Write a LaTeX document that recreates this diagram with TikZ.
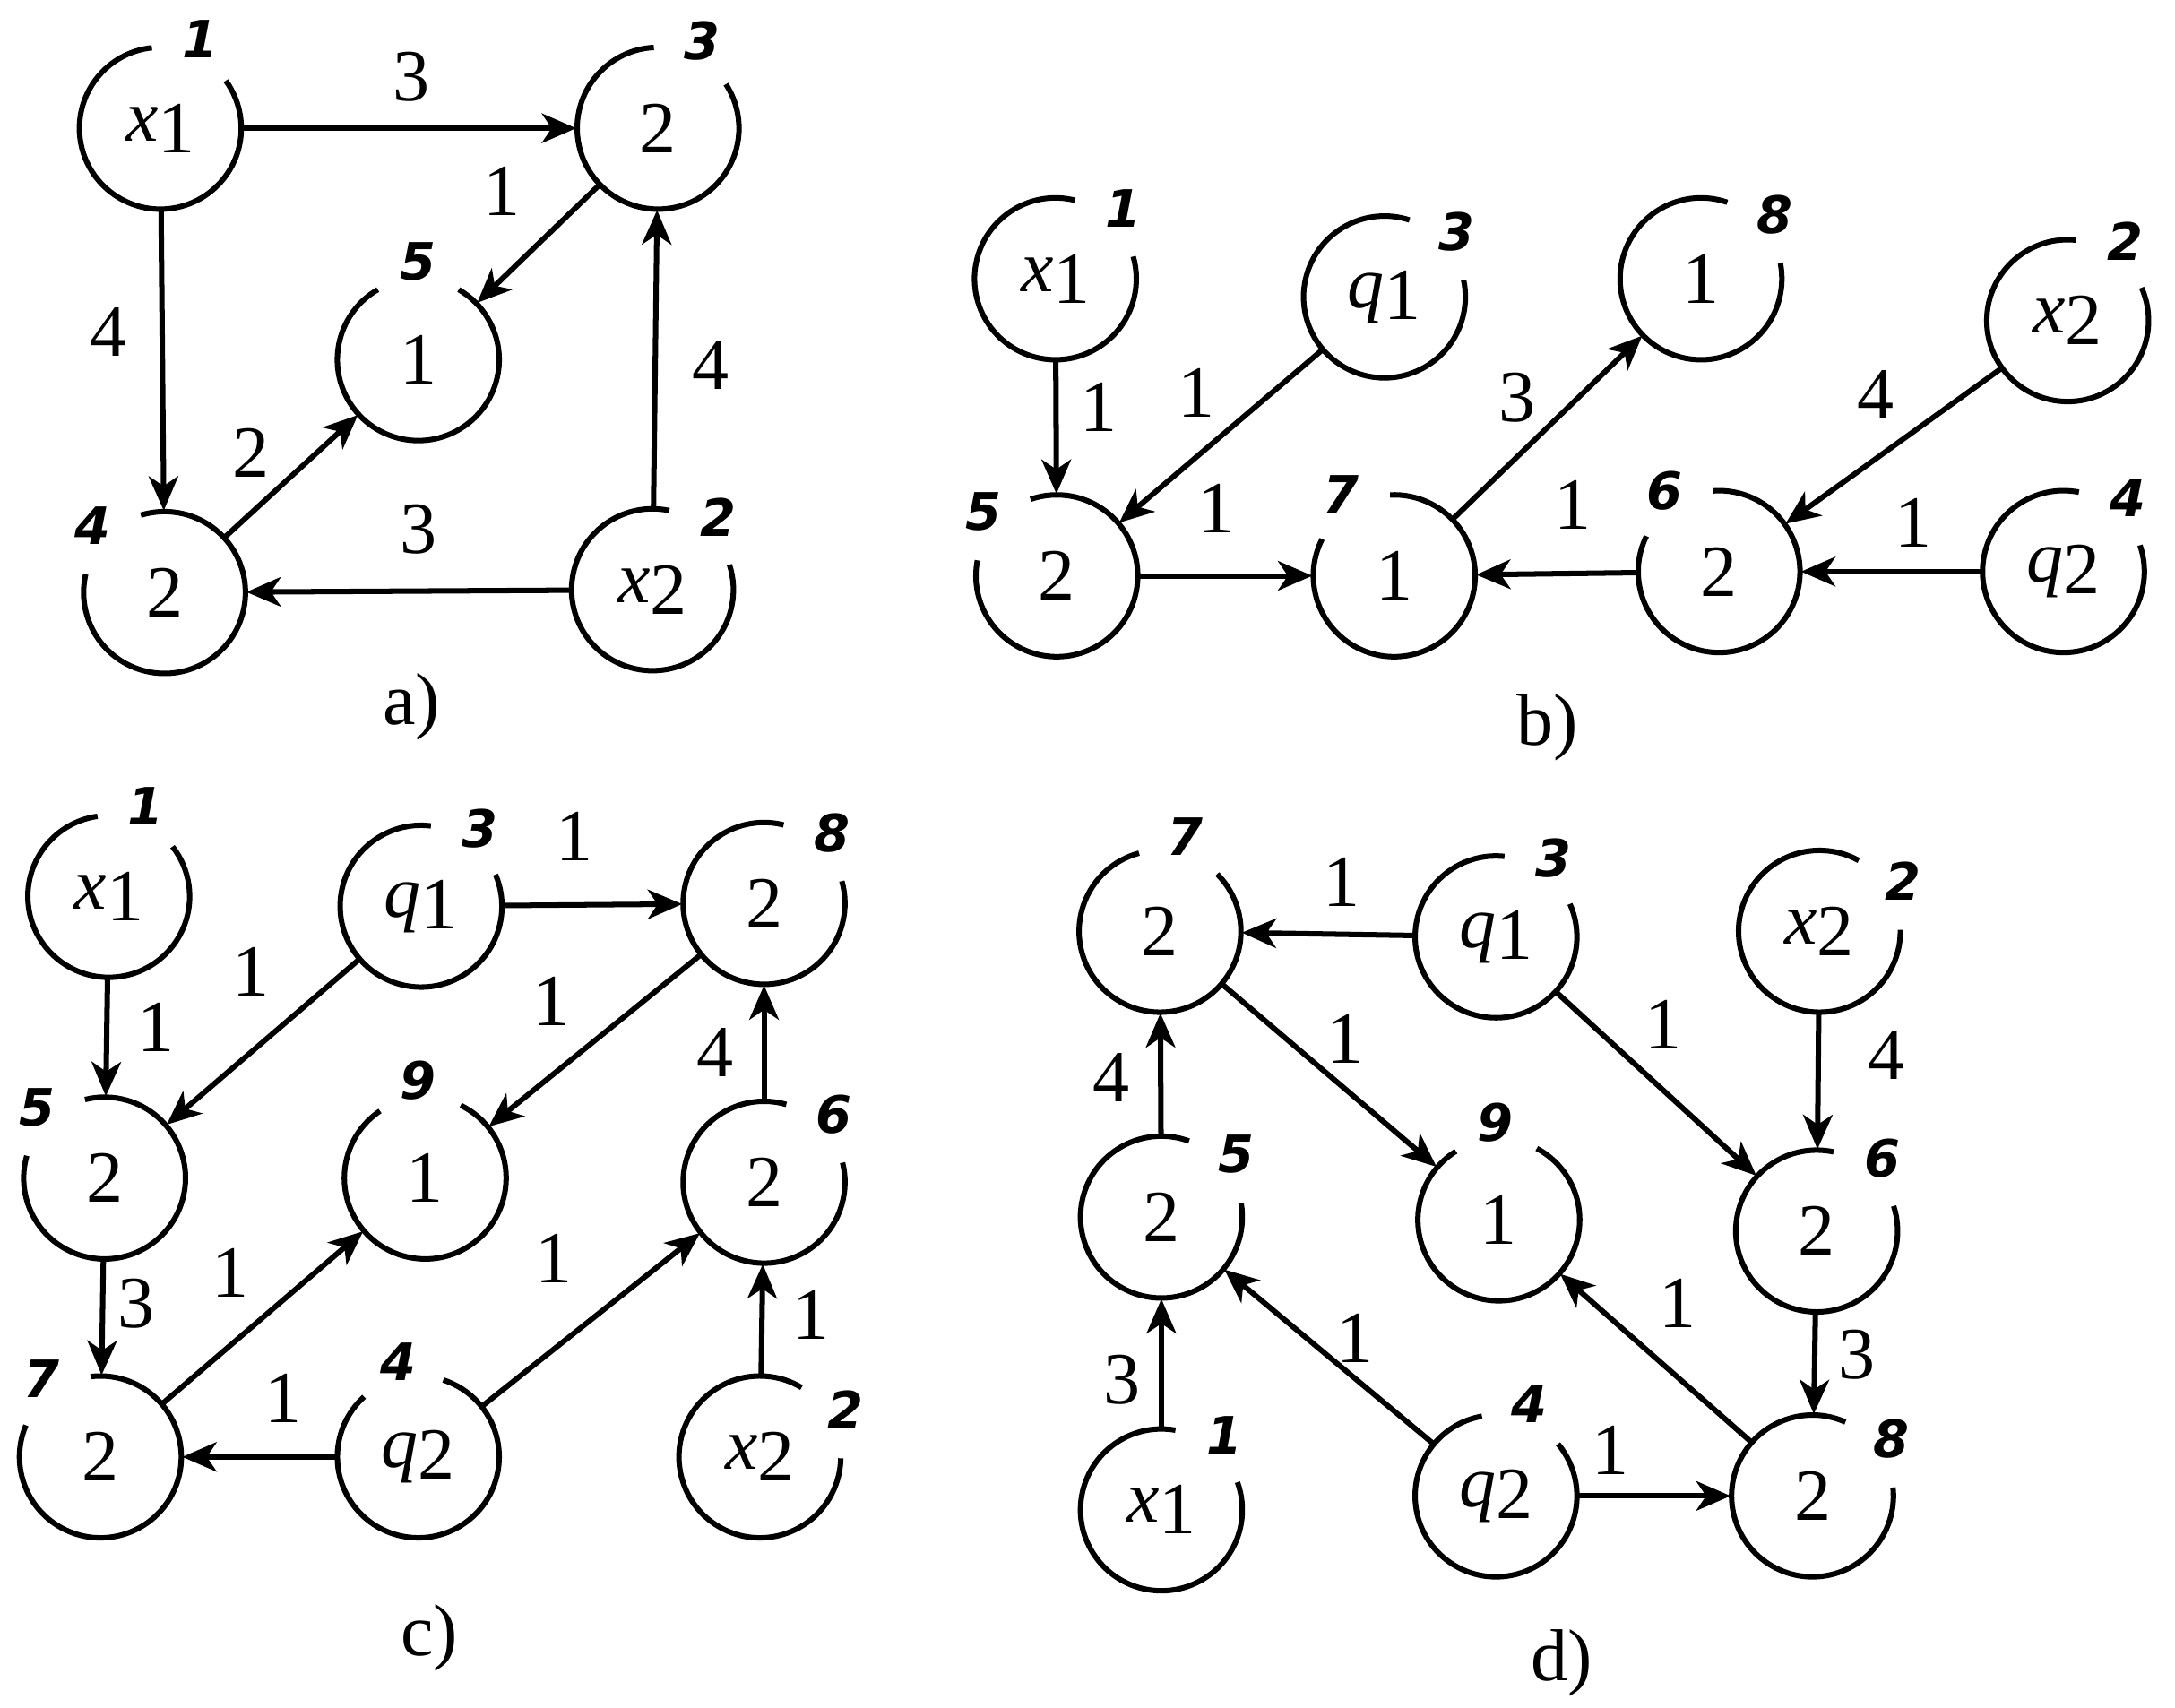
\documentclass[tikz,border=0pt]{standalone}
\usepackage{fontspec}
\setmainfont{Liberation Serif}
\newfontfamily\idxfont{DejaVu Sans}
\usetikzlibrary{arrows.meta,calc}
\tikzset{
  gn/.style={circle,minimum size=1.16cm,inner sep=0pt,font=\fontsize{15}{15}\selectfont},
  circ/.style={line width=1.1pt},
  idx/.style={font=\idxfont\bfseries\itshape\fontsize{10.5}{10.5}\selectfont},
  ed/.style={line width=1.1pt,-{Stealth[length=7pt,width=6pt,inset=2pt]}},
  lb/.style={font=\fontsize{15}{15}\selectfont},
  capt/.style={font=\fontsize{15}{15}\selectfont}
}
\newcommand\gn[5]{%
  \node[gn] (#1) at (#2) {#3};
  \draw[circ] (#1.center) ++(#4+30:0.58cm) arc[start angle=#4+30, delta angle=300, radius=0.58cm];
  \node[idx] at ($(#1.center)+(#4:0.70cm)$) {#5};
}
\newcommand\xv[1]{\textit{x}\raisebox{-0.35ex}{#1}}
\newcommand\qv[1]{\textit{q}\raisebox{-0.35ex}{#1}}
\begin{document}
\begin{tikzpicture}[x=0.01cm,y=-0.01cm]
\useasboundingbox (0,0) rectangle (1560,1225);
% (a)
\gn{a1}{115,92}{\xv1}{66}{1}
\gn{a3}{472,92}{2}{63}{3}
\gn{a5}{300,258}{1}{90}{5}
\gn{a4}{118,425}{2}{137}{4}
\gn{a2}{468,423}{\xv2}{48}{2}
\draw[ed] (a1) -- (a3);
\draw[ed] (a3) -- (a5);
\draw[ed] (a1) -- (a4);
\draw[ed] (a4) -- (a5);
\draw[ed] (a2) -- (a4);
\draw[ed] (a2) -- (a3);
\node[lb] at (295,55) {3};
\node[lb] at (360,137) {1};
\node[lb] at (78,238) {4};
\node[lb] at (180,325) {2};
\node[lb] at (300,380) {3};
\node[lb] at (510,262) {4};
\node[capt] at (295,507) {a)};
% (b)
\gn{b1}{757,200}{\xv1}{46}{1}
\gn{b3}{993,213}{\qv1}{42}{3}
\gn{b8}{1220,200}{1}{41}{8}
\gn{b2}{1483,230}{\xv2}{54}{2}
\gn{b5}{758,413}{2}{139}{5}
\gn{b7}{1000,413}{1}{123}{7}
\gn{b6}{1233,410}{2}{124}{6}
\gn{b4}{1480,410}{\qv2}{49}{4}
\draw[ed] (b1) -- (b5);
\draw[ed] (b3) -- (b5);
\draw[ed] (b5) -- (b7);
\draw[ed] (b7) -- (b8);
\draw[ed] (b6) -- (b7);
\draw[ed] (b2) -- (b6);
\draw[ed] (b4) -- (b6);
\node[lb] at (788,292) {1};
\node[lb] at (858,282) {1};
\node[lb] at (872,365) {1};
\node[lb] at (1088,285) {3};
\node[lb] at (1128,362) {1};
\node[lb] at (1345,283) {4};
\node[lb] at (1372,375) {1};
\node[capt] at (1110,522) {b)};
% (c)
\gn{c1}{78,643}{\xv1}{68}{1}
\gn{c3}{302,650}{\qv1}{53}{3}
\gn{c8}{548,648}{2}{46}{8}
\gn{c5}{75,845}{2}{134}{5}
\gn{c9}{305,845}{1}{94}{9}
\gn{c6}{548,848}{2}{44}{6}
\gn{c7}{72,1045}{2}{127}{7}
\gn{c4}{300,1045}{\qv2}{102}{4}
\gn{c2}{545,1045}{\xv2}{29}{2}
\draw[ed] (c1) -- (c5);
\draw[ed] (c3) -- (c5);
\draw[ed] (c3) -- (c8);
\draw[ed] (c8) -- (c9);
\draw[ed] (c6) -- (c8);
\draw[ed] (c5) -- (c7);
\draw[ed] (c7) -- (c9);
\draw[ed] (c4) -- (c7);
\draw[ed] (c4) -- (c6);
\draw[ed] (c2) -- (c6);
\node[lb] at (112,737) {1};
\node[lb] at (180,697) {1};
\node[lb] at (412,600) {1};
\node[lb] at (395,718) {1};
\node[lb] at (513,755) {4};
\node[lb] at (98,935) {3};
\node[lb] at (165,913) {1};
\node[lb] at (203,1003) {1};
\node[lb] at (397,903) {1};
\node[lb] at (582,943) {1};
\node[capt] at (308,1175) {c)};
% (d)
\gn{d7}{832,668}{2}{75}{7}
\gn{d3}{1073,672}{\qv1}{54}{3}
\gn{d2}{1305,668}{\xv2}{31}{2}
\gn{d9}{1075,875}{1}{92}{9}
\gn{d6}{1303,883}{2}{48}{6}
\gn{d5}{833,873}{2}{40}{5}
\gn{d1}{833,1083}{\xv1}{50}{1}
\gn{d4}{1073,1073}{\qv2}{70}{4}
\gn{d8}{1300,1073}{2}{36}{8}
\draw[ed] (d3) -- (d7);
\draw[ed] (d7) -- (d9);
\draw[ed] (d3) -- (d6);
\draw[ed] (d2) -- (d6);
\draw[ed] (d5) -- (d7);
\draw[ed] (d1) -- (d5);
\draw[ed] (d4) -- (d5);
\draw[ed] (d8) -- (d9);
\draw[ed] (d6) -- (d8);
\draw[ed] (d4) -- (d8);
\node[lb] at (962,633) {1};
\node[lb] at (965,745) {1};
\node[lb] at (1193,735) {1};
\node[lb] at (1353,757) {4};
\node[lb] at (797,773) {4};
\node[lb] at (805,990) {3};
\node[lb] at (972,960) {1};
\node[lb] at (1203,935) {1};
\node[lb] at (1332,972) {3};
\node[lb] at (1155,1040) {1};
\node[capt] at (1120,1193) {d)};
\end{tikzpicture}
\end{document}
